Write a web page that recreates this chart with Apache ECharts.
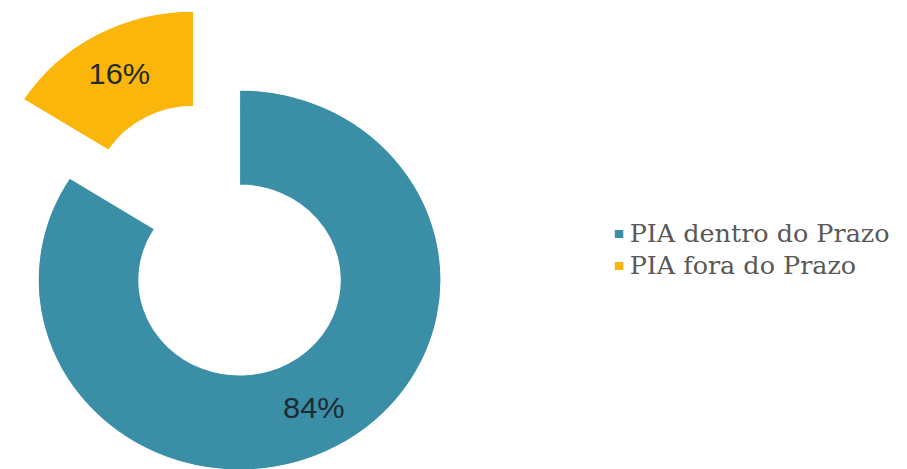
<!DOCTYPE html>
<html>
<head>
<meta charset="utf-8">
<script src="https://cdn.jsdelivr.net/npm/echarts@6/dist/echarts.min.js"></script>
<style>
html,body{margin:0;padding:0;background:#fff;overflow:hidden;}
#chart{width:856px;height:469px;transform:scaleX(1.06);transform-origin:0 0;}
</style>
</head>
<body>
<div id="chart"></div>
<script>
const categories = ['PIA dentro do Prazo', 'PIA fora do Prazo'];
const values = [84, 16];
const colors = ['#3A8FA7', '#FAB60A'];

const chart = echarts.init(document.getElementById('chart'), null, {renderer: 'svg'});
chart.setOption({
  animation: false,
  backgroundColor: '#ffffff',
  legend: {
    orient: 'vertical',
    left: 573,
    top: 217,
    icon: 'rect',
    itemWidth: 10,
    itemHeight: 10,
    itemGap: 8,
    textStyle: {fontFamily: 'DejaVu Serif', fontSize: 24, color: '#595959'},
    data: categories
  },
  series: [{
    type: 'pie',
    center: [226, 280],
    radius: [95, 190],
    startAngle: 90,
    clockwise: true,
    selectedMode: 'single',
    selectedOffset: 90,
    emphasis: {disabled: true},
    itemStyle: {borderColor: '#ffffff', borderWidth: 1},
    label: {
      show: true,
      position: 'inside',
      formatter: '{c}%',
      fontFamily: 'Liberation Sans',
      fontSize: 29,
      color: '#1f2a33'
    },
    labelLine: {show: false},
    data: categories.map((n, i) => ({
      name: n,
      value: values[i],
      selected: i === 1,
      itemStyle: {color: colors[i]}
    }))
  }]
});
</script>
</body>
</html>
